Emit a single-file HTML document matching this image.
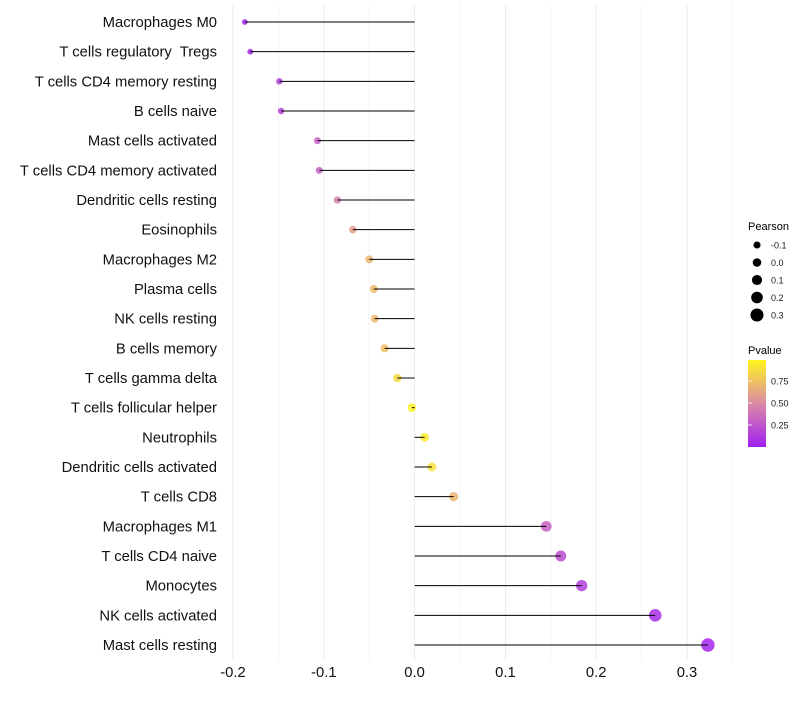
<!DOCTYPE html>
<html><head><meta charset="utf-8"><style>
body{margin:0;background:#fff;}
svg{font-family:"Liberation Sans",sans-serif;}
text{white-space:pre;}
</style></head><body>
<svg id="chart" width="800" height="700">
<defs><linearGradient id="pg" x1="0" y1="1" x2="0" y2="0">
<stop offset="0" stop-color="#a01ef0"/><stop offset="0.5" stop-color="#dc8aa6"/><stop offset="1" stop-color="#fff51e"/></linearGradient></defs>
<g id="grid"></g>
<g id="points"></g>
<g id="marks"></g>
<g id="axes"></g>
<g id="legend"></g>
</svg>
<script>
const categories=["Macrophages M0","T cells regulatory  Tregs","T cells CD4 memory resting","B cells naive","Mast cells activated","T cells CD4 memory activated","Dendritic cells resting","Eosinophils","Macrophages M2","Plasma cells","NK cells resting","B cells memory","T cells gamma delta","T cells follicular helper","Neutrophils","Dendritic cells activated","T cells CD8","Macrophages M1","T cells CD4 naive","Monocytes","NK cells activated","Mast cells resting"];
const pearson=[-0.187,-0.181,-0.149,-0.147,-0.107,-0.105,-0.085,-0.068,-0.050,-0.045,-0.044,-0.033,-0.019,-0.003,0.011,0.019,0.043,0.145,0.161,0.184,0.265,0.323];
const pvalue=[0.03,0.05,0.15,0.16,0.3,0.32,0.45,0.6,0.7,0.72,0.72,0.75,0.87,0.98,0.95,0.9,0.7,0.3,0.22,0.15,0.06,0.03];
const xTicks=[-0.2,-0.1,0.0,0.1,0.2,0.3];
const xTickLabels=["-0.2","-0.1","0.0","0.1","0.2","0.3"];
const sizeLegend=[-0.1,0.0,0.1,0.2,0.3];
const sizeLegendLabels=["-0.1","0.0","0.1","0.2","0.3"];
const pLegend=[0.25,0.5,0.75];
const pLegendLabels=["0.25","0.50","0.75"];

const NS="http://www.w3.org/2000/svg";
const x=v=>414.6+v*908;
const y=i=>22+i*(623/21);
const r=v=>Math.max(1.5,4.3+7.5*v);
function lerp(a,b,t){return a.map((c,i)=>Math.round(c+(b[i]-c)*t));}
function col(p){const A=[160,30,240],M=[220,138,166],B=[255,245,30];
 const c=p<0.5?lerp(A,M,p/0.5):lerp(M,B,(p-0.5)/0.5);return `rgb(${c})`;}
function mk(tag,attrs,parent,text){const e=document.createElementNS(NS,tag);for(const k in attrs)e.setAttribute(k,attrs[k]);if(text!==undefined)e.textContent=text;parent.appendChild(e);return e;}
const grid=document.getElementById('grid'),pts=document.getElementById('points'),marks=document.getElementById('marks'),axes=document.getElementById('axes'),leg=document.getElementById('legend');
for(let k=0;k<=11;k++){const v=-0.2+k*0.05;const g=mk('line',{x1:x(v),x2:x(v),y1:5,y2:660,stroke:k%2?'#f3f3f3':'#ebebeb','stroke-width':1},grid);

}
categories.forEach((c,i)=>{
 const t=mk('text',{x:217,y:y(i)+5,'text-anchor':'end','font-size':14.8,fill:'#111'},axes,c);
 
 
 const p=mk('circle',{cx:x(pearson[i]),cy:y(i),r:r(pearson[i]),fill:col(pvalue[i]),'fill-opacity':0.85},pts);
 
 
 const l=mk('line',{x1:x(0),x2:x(pearson[i]),y1:y(i),y2:y(i),stroke:'#000','stroke-width':1},marks);
 
 
});
xTicks.forEach((v,i)=>{const t=mk('text',{x:x(v),y:677,'text-anchor':'middle','font-size':14.8,fill:'#111'},axes,xTickLabels[i]);

});
const pt=mk('text',{x:748,y:230,'font-size':11,fill:'#000'},leg,'Pearson');


sizeLegend.forEach((v,i)=>{const yy=245+i*17.5;
 const c=mk('circle',{cx:757,cy:yy,r:r(v),fill:'#000'},leg);
 
 
 const t=mk('text',{x:771,y:yy+3.5,'font-size':9,fill:'#1a1a1a'},leg,sizeLegendLabels[i]);
 
 });
const vt=mk('text',{x:748,y:354,'font-size':11,fill:'#000'},leg,'Pvalue');


const bar=mk('rect',{x:748,y:360,width:18,height:87,fill:'url(#pg)'},leg);


pLegend.forEach((v,i)=>{const yy=447-v*88;
 const tk=mk('line',{x1:748,x2:752,y1:yy,y2:yy,stroke:'#fff','stroke-width':0.8},leg);
 
 
 const t=mk('text',{x:771,y:yy+3.5,'font-size':9,fill:'#1a1a1a'},leg,pLegendLabels[i]);
 
 });
</script>
</body></html>
